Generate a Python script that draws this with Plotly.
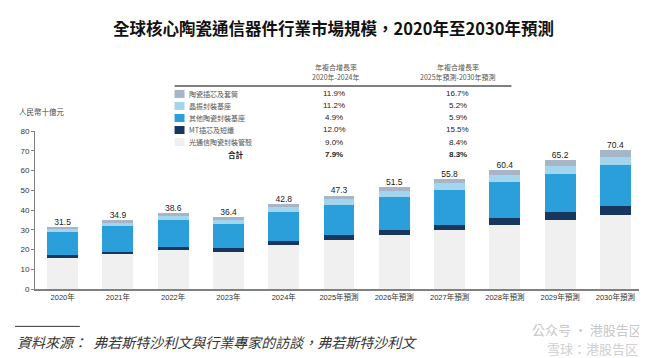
import plotly.graph_objects as go

years = ["2020年", "2021年", "2022年", "2023年", "2024年", "2025年預測", "2026年預測",
         "2027年預測", "2028年預測", "2029年預測", "2030年預測"]

# segments (bottom to top), RMB billion
optical_shell = [15.9, 17.5, 19.6, 18.8, 22.2, 24.7, 27.4, 29.8, 32.2, 34.7, 37.6]   # 光通信陶瓷封裝管殼
mt_ferrule = [1.2, 1.3, 1.6, 2.2, 2.0, 2.6, 2.5, 2.7, 3.5, 4.1, 4.5]                 # MT插芯及短纖
other_base = [11.7, 13.2, 13.5, 12.0, 14.6, 15.3, 16.5, 17.8, 18.5, 19.6, 20.7]      # 其他陶瓷封裝基座
crystal_base = [1.7, 1.9, 2.1, 2.4, 2.5, 2.9, 3.0, 3.4, 3.7, 3.7, 3.9]              # 晶振封裝基座
ceramic_ferrule = [1.0, 1.0, 1.8, 1.0, 1.5, 1.8, 2.1, 2.1, 2.5, 3.1, 3.7]           # 陶瓷插芯及套筒
totals = [31.5, 34.9, 38.6, 36.4, 42.8, 47.3, 51.5, 55.8, 60.4, 65.2, 70.4]

legend_labels = ["陶瓷插芯及套筒", "晶振封裝基座", "其他陶瓷封裝基座", "MT插芯及短纖", "光通信陶瓷封裝管殼", "合計"]
cagr_2020_2024 = ["11.9%", "11.2%", "4.9%", "12.0%", "9.0%", "7.9%"]
cagr_2025_2030 = ["16.7%", "5.2%", "5.9%", "15.5%", "8.4%", "8.3%"]
y_ticks = [0, 10, 20, 30, 40, 50, 60, 70, 80]

colors = {
    "ceramic_ferrule": "#A7B5C9",
    "crystal_base": "#A3D6EE",
    "other_base": "#2B9FD9",
    "mt_ferrule": "#17375E",
    "optical_shell": "#F0F0F0",
}

FONT = "Liberation Sans, Noto Sans CJK TC, sans-serif"
CJK = "Noto Sans CJK TC, Liberation Sans, sans-serif"

fig = go.Figure()
series = [
    (optical_shell, colors["optical_shell"]),
    (mt_ferrule, colors["mt_ferrule"]),
    (other_base, colors["other_base"]),
    (crystal_base, colors["crystal_base"]),
    (ceramic_ferrule, colors["ceramic_ferrule"]),
]
for vals, col in series:
    fig.add_trace(go.Bar(x=years, y=vals, marker=dict(color=col, line=dict(width=0)),
                         showlegend=False, hoverinfo="skip"))

fig.add_trace(go.Scatter(x=years, y=totals, mode="text", text=[f"{v:.1f}" for v in totals],
                         textposition="top center", textfont=dict(size=8.5, color="#222", family=FONT),
                         showlegend=False, hoverinfo="skip"))

W, H = 647, 358
L, R_EDGE, TOP, BOT = 25, 635, 123, 280.7


def px(x):
    return (x - L) / (R_EDGE - L)


def py(y):
    return (BOT - y) / (BOT - TOP)


ann = []
shapes = []

# title
ann.append(dict(x=px(324), y=py(20), xref="paper", yref="paper", showarrow=False,
                text="<b>全球核心陶瓷通信器件行業市場規模，2020年至2030年預測</b>",
                font=dict(size=16.5, color="#111", family=CJK), xanchor="center", yanchor="middle"))

# unit label
ann.append(dict(x=px(7), y=py(104), xref="paper", yref="paper", showarrow=False,
                text="人民幣十億元", font=dict(size=7.5, color="#444", family=CJK),
                xanchor="left", yanchor="middle"))

# table headers
for cx, l1, l2 in [(327, "年複合增長率", "2020年-2024年"), (449, "年複合增長率", "2025年預測-2030年預測")]:
    ann.append(dict(x=px(cx), y=py(59), xref="paper", yref="paper", showarrow=False, text=l1,
                    font=dict(size=7, color="#555", family=CJK), xanchor="center", yanchor="middle"))
    ann.append(dict(x=px(cx), y=py(69), xref="paper", yref="paper", showarrow=False, text=l2,
                    font=dict(size=7, color="#555", family=CJK), xanchor="center", yanchor="middle"))

shapes.append(dict(type="line", xref="paper", yref="paper", x0=px(165), x1=px(503), y0=py(78), y1=py(78),
                   line=dict(color="#808080", width=2)))

row_y = [86, 98, 110, 122, 134, 146]
swatch_cols = [colors["ceramic_ferrule"], colors["crystal_base"], colors["other_base"],
               colors["mt_ferrule"], colors["optical_shell"]]
for i, lab in enumerate(legend_labels):
    yy = row_y[i]
    bold = i == len(legend_labels) - 1
    if not bold:
        shapes.append(dict(type="rect", xref="paper", yref="paper", x0=px(165), x1=px(175),
                           y0=py(yy + 4), y1=py(yy - 4), fillcolor=swatch_cols[i], line=dict(width=0)))
        ann.append(dict(x=px(178), y=py(yy), xref="paper", yref="paper", showarrow=False, text=lab,
                        font=dict(size=7, color="#555", family=CJK), xanchor="left", yanchor="middle"))
    else:
        ann.append(dict(x=px(227), y=py(yy), xref="paper", yref="paper", showarrow=False,
                        text=f"<b>{lab}</b>", font=dict(size=7.5, color="#222", family=CJK),
                        xanchor="center", yanchor="middle"))
    for cx, vals in [(325, cagr_2020_2024), (449, cagr_2025_2030)]:
        t = vals[i]
        if bold:
            t = f"<b>{t}</b>"
        ann.append(dict(x=px(cx), y=py(yy), xref="paper", yref="paper", showarrow=False, text=t,
                        font=dict(size=8, color="#222", family=FONT), xanchor="center", yanchor="middle"))

# footer
shapes.append(dict(type="line", xref="paper", yref="paper", x0=px(5), x1=px(70), y0=py(318), y1=py(318),
                   line=dict(color="#333", width=1)))
ann.append(dict(x=px(5), y=py(334), xref="paper", yref="paper", showarrow=False,
                text="<i>資料來源：  弗若斯特沙利文與行業專家的訪談，弗若斯特沙利文</i>",
                font=dict(size=14, color="#333", family=CJK), xanchor="left", yanchor="middle"))

# watermark
ann.append(dict(x=px(636), y=py(321), xref="paper", yref="paper", showarrow=False,
                text="公众号 · 港股告区", font=dict(size=13, color="#C8C8C8", family=CJK),
                xanchor="right", yanchor="middle"))
ann.append(dict(x=px(632), y=py(340), xref="paper", yref="paper", showarrow=False,
                text="雪球：港股告区", font=dict(size=13, color="#D0D0D0", family=CJK),
                xanchor="right", yanchor="middle"))

fig.update_layout(
    width=W, height=H,
    margin=dict(l=L, r=W - R_EDGE, t=TOP, b=H - BOT, pad=0),
    barmode="stack", bargap=0.44,
    plot_bgcolor="white", paper_bgcolor="white",
    font=dict(family=FONT, size=8, color="#333"),
    annotations=ann, shapes=shapes,
    xaxis=dict(type="category", range=[-0.5, 10.5], showline=True, linecolor="#808080", linewidth=1.5,
               ticks="", tickfont=dict(size=7.5, color="#333", family=FONT), showgrid=False,
               fixedrange=True),
    yaxis=dict(range=[0, 80], tickvals=y_ticks, showline=True, linecolor="#808080", linewidth=1,
               ticks="outside", ticklen=3, tickcolor="#808080", showgrid=False, zeroline=False,
               tickfont=dict(size=8, color="#333", family=FONT), fixedrange=True),
)

fig.write_html("out.html")
